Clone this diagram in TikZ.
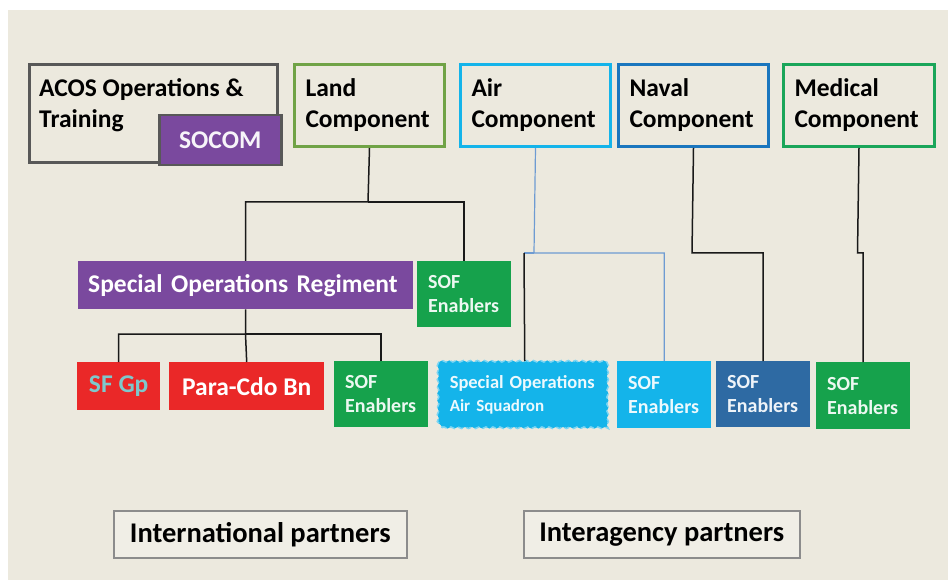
\documentclass[tikz,border=0pt]{standalone}
\usepackage{fontspec}
\setmainfont{Carlito}
\usetikzlibrary{decorations.pathmorphing}
\definecolor{bgbeige}{RGB}{236,233,222}
\definecolor{acosgray}{RGB}{88,88,88}
\definecolor{sopurple}{RGB}{122,73,158}
\definecolor{landgreen}{RGB}{112,163,70}
\definecolor{aircyan}{RGB}{20,180,234}
\definecolor{navalblue}{RGB}{26,118,190}
\definecolor{medgreen}{RGB}{26,166,90}
\definecolor{sofgreen}{RGB}{22,162,76}
\definecolor{sofnavy}{RGB}{46,106,163}
\definecolor{cdored}{RGB}{234,40,40}
\definecolor{sfteal}{RGB}{126,200,204}
\definecolor{airline}{RGB}{110,155,210}
\definecolor{partgray}{RGB}{140,140,140}
\definecolor{partfill}{RGB}{240,238,230}
\newcommand\headfont{\fontsize{25.5}{31}\selectfont\bfseries}
\newcommand\soffont{\fontsize{20}{24}\selectfont\bfseries}
\newcommand\soasfont{\fontsize{18}{23}\selectfont\bfseries}
\newcommand\partfont{\fontsize{28.5}{34}\selectfont\bfseries}
\tikzset{
  comp/.style={draw=#1, line width=3pt, fill=bgbeige, anchor=north west,
    align=left, inner xsep=11pt, inner ysep=0pt, text width=128pt,
    minimum height=82pt, font=\headfont},
  unit/.style={fill=#1, anchor=north west, inner sep=0pt, align=center,
    minimum height=48pt, font=\headfont, text=white},
  sofbox/.style={fill=#1, anchor=north west, inner xsep=11pt, inner ysep=0pt,
    align=left, text width=72pt, minimum height=66pt, font=\soffont,
    text=white!92!#1},
  partbox/.style={draw=partgray, line width=1.5pt, fill=partfill,
    anchor=north west, inner sep=0pt, minimum height=47pt, font=\partfont},
  conn/.style={line width=1.5pt, black!90},
}
\begin{document}
\begin{tikzpicture}[x=1pt,y=-1pt]
\useasboundingbox (0,0) rectangle (948,580);
\fill[white] (0,0) rectangle (948,580);
\fill[bgbeige] (8,10) rectangle (948,580);

% top row
\node[comp=acosgray, minimum width=248pt, text width=226pt, minimum height=98pt] (acos) at (28,63) {};
\node[anchor=north west, align=left, font=\headfont, inner sep=0pt] (acostext)
  at (acos.north west) [xshift=11pt, yshift=-15pt] {ACOS Operations \&\\Training};
\node[unit=sopurple, draw=acosgray, line width=2.5pt, minimum width=122pt,
  minimum height=50pt, text=white!94!sopurple] (socom) at (158,114) {SOCOM};
\node[comp=landgreen] (land) at (293,63) {Land\\Component};
\node[comp=aircyan] (air) at (459,63) {Air\\Component};
\node[comp=navalblue] (naval) at (617,63) {Naval\\Component};
\node[comp=medgreen, text width=129pt] (medical) at (782,63) {Medical\\Component};

% land branch
\node[unit=sopurple, align=left, minimum width=335pt, text width=315pt, inner xsep=10pt] (sor) at (78,261) {Special Operations Regiment};
\node[sofbox=sofgreen] (sofland) at (417,261) {SOF\\Enablers};
\node[unit=cdored, minimum width=83pt, text=sfteal] (sfgp) at (77,362) {SF Gp};
\node[unit=cdored, minimum width=155pt] (paracdo) at (169,362) {Para-Cdo Bn};
\node[sofbox=sofgreen] (sofreg) at (334,361) {SOF\\Enablers};

% air, naval, medical
\node[sofbox=aircyan, text width=150pt, inner xsep=8pt, font=\soasfont,
  draw=aircyan!55!white, line width=1.5pt, dash pattern=on 5pt off 4pt,
  decorate, decoration={snake, segment length=7pt, amplitude=0.8pt}] (soas) at (441,361)
  {\fontsize{18.5}{23}\selectfont Special Operations\\\fontsize{17}{23}\selectfont Air Squadron};
\node[sofbox=aircyan, minimum height=67pt] (sofair) at (617,361) {SOF\\Enablers};
\node[sofbox=sofnavy] (sofnav) at (716,361) {SOF\\Enablers};
\node[sofbox=sofgreen, minimum height=67pt] (sofmed) at (816,362) {SOF\\Enablers};

% partners
\node[partbox, minimum width=293pt] (intl) at (113,510) {International partners};
\node[partbox, minimum width=276pt] (inter) at (523,510) {Interagency partners};

% connectors
\coordinate (landbus) at (368,202);
\draw[conn] (land.south) -- (landbus) -| (sor.north);
\draw[conn] (landbus) -| (sofland.north);
\coordinate (sorbus) at (245.5,334);
\draw[conn] (sor.south) -- (sorbus) -| (sfgp.north);
\draw[conn] (sorbus) -| (sofreg.north);
\draw[conn] (sorbus) -- (paracdo.north);
\coordinate (airbus) at (534,253);
\draw[airline, line width=1.2pt] (air.south) -- (airbus) -| (sofair.north);
\draw[airline, line width=1.2pt] (airbus) -- (524,253);
\draw[conn] (soas.north) -- (524,253);
\coordinate (navbus) at (692,253);
\draw[conn] (naval.south) -- (navbus) -| (sofnav.north);
\coordinate (medbus) at (857.5,253);
\draw[conn] (medical.south) -- (medbus) -| (sofmed.north);
\end{tikzpicture}
\end{document}
